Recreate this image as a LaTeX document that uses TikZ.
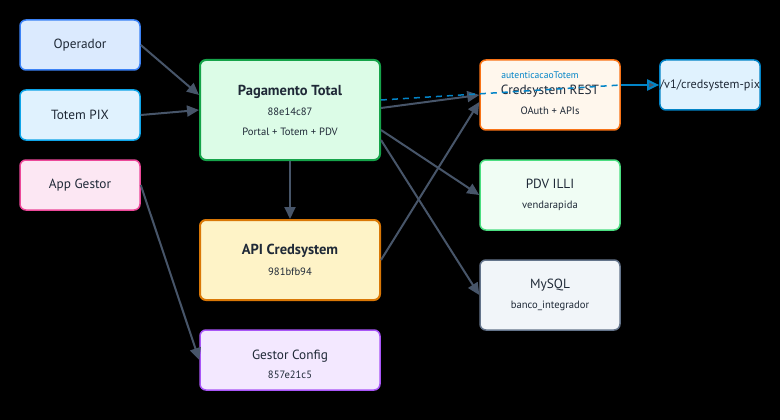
\documentclass[tikz,border=0pt]{standalone}
\usepackage{fontspec}
\setmainfont{PT Sans}
\usetikzlibrary{arrows.meta}
\definecolor{ink}{HTML}{1F2937}
\definecolor{edge}{HTML}{475569}
\definecolor{auth}{HTML}{0284C7}
\definecolor{opfill}{HTML}{DBEAFE}\definecolor{opdraw}{HTML}{3B82F6}
\definecolor{tofill}{HTML}{E0F2FE}\definecolor{todraw}{HTML}{0EA5E9}
\definecolor{agfill}{HTML}{FCE7F3}\definecolor{agdraw}{HTML}{EC4899}
\definecolor{ptfill}{HTML}{DCFCE7}\definecolor{ptdraw}{HTML}{16A34A}
\definecolor{apfill}{HTML}{FEF3C7}\definecolor{apdraw}{HTML}{D97706}
\definecolor{gcfill}{HTML}{F3E8FF}\definecolor{gcdraw}{HTML}{A855F7}
\definecolor{crfill}{HTML}{FFF7ED}\definecolor{crdraw}{HTML}{F97316}
\definecolor{pxfill}{HTML}{E0F2FE}\definecolor{pxdraw}{HTML}{0284C7}
\definecolor{pvfill}{HTML}{F0FDF4}\definecolor{pvdraw}{HTML}{4ADE80}
\definecolor{dbfill}{HTML}{F1F5F9}\definecolor{dbdraw}{HTML}{64748B}
\newcommand{\hashtxt}[1]{{\fontsize{10.6}{20}\selectfont #1}}
\newcommand{\titletxt}[1]{{\fontsize{14.5}{20}\selectfont\bfseries #1}}
\begin{document}
\begin{tikzpicture}[x=1pt,y=-1pt,
  box/.style={draw,rounded corners=6pt,line width=1.5pt,align=center,text=ink,inner sep=0pt,
    font=\fontsize{13.3}{20}\selectfont},
  small/.style={box,minimum width=120pt,minimum height=50pt},
  side/.style={box,minimum width=140pt,minimum height=70pt},
  big/.style={box,minimum width=180pt,line width=2pt},
  inner/.style={align=center,text=ink,font=\fontsize{13.3}{20}\selectfont},
  flow/.style={draw=edge,line width=2pt,-{Triangle[length=12pt,width=11pt]}}]
\fill[black] (0,0) rectangle (780,420);

% clients
\node[small,fill=opfill,draw=opdraw] (oper) at (80,45) {Operador};
\node[small,fill=tofill,draw=todraw] (totem) at (80,115) {Totem PIX};
\node[small,fill=agfill,draw=agdraw] (appg) at (80,185) {App Gestor};

% services
\node[big,minimum height=100pt,fill=ptfill,draw=ptdraw] (pag) at (290,110)
  {\titletxt{Pagamento Total}\\ \hashtxt{88e14c87}\\ \hashtxt{Portal + Totem + PDV}};
\node[big,minimum height=80pt,fill=apfill,draw=apdraw] (api) at (290,260)
  {\titletxt{API Credsystem}\\[1pt] \hashtxt{981bfb94}};
\node[big,minimum height=60pt,line width=1.5pt,fill=gcfill,draw=gcdraw,
  label={[inner,yshift=-4pt]center:Gestor Config\\[-1pt] \hashtxt{857e21c5}}] (gcfg) at (290,360) {};

% externals
\node[side,fill=crfill,draw=crdraw,
  label={[inner,yshift=-5pt]center:Credsystem REST\\ \hashtxt{OAuth + APIs}}] (rest) at (550,95) {};
\node[small,minimum width=100pt,fill=pxfill,draw=pxdraw,font=\fontsize{12.2}{14}\selectfont] (pix) at (710,85) {/v1/credsystem-pix};
\node[side,fill=pvfill,draw=pvdraw] (pdv) at (550,195)
  {PDV ILLI\\ \hashtxt{vendarapida}};
\node[side,fill=dbfill,draw=dbdraw] (db) at (550,295)
  {MySQL\\ \hashtxt{banco\_integrador}};

\draw[flow] (oper.east) -- ([yshift=15pt]pag.west);
\draw[flow] (totem.east) -- (pag.west);
\draw[flow] (appg.east) -- (gcfg.west);
\draw[flow] (pag.south) -- (api.north);
\draw[flow] ([yshift=2pt]pag.east) -- (rest.west);
\draw[flow] ([yshift=-20pt]pag.east) -- (pdv.west);
\draw[flow] ([yshift=-30pt]pag.east) -- (db.west);
\draw[flow] (api.east) -- ([yshift=-7pt]rest.west);
\draw[auth,line width=1.5pt,dash pattern=on 6pt off 5pt] ([yshift=10pt]pag.east) -- (rest.east |- pix.west);
\draw[auth,line width=2pt,-{Triangle[length=12pt,width=11pt,fill=edge]}] (rest.east |- pix.west) -- (pix.west);
\node[text=auth,font=\fontsize{9.6}{10}\selectfont] (authlbl) at (540,75) {autenticacaoTotem};
\end{tikzpicture}
\end{document}
